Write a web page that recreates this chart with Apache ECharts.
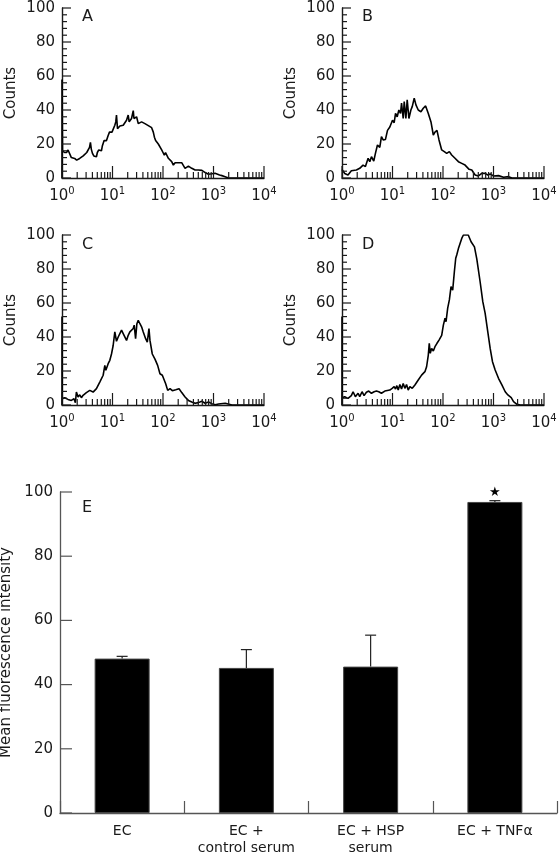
<!DOCTYPE html>
<html>
<head>
<meta charset="utf-8">
<script src="https://cdn.jsdelivr.net/npm/echarts@6/dist/echarts.min.js"></script>
<style>
html,body{margin:0;padding:0;background:#fff;}
#chart{width:560px;height:853px;}
</style>
</head>
<body>
<div id="chart"></div>
<script>
// ---- Histogram data: [log10(fluorescence), counts] ----
const histA = [[0,0],[0,58],[0.01,16],[0.05,15],[0.09,15],[0.12,16.5],[0.15,16],[0.185,12],[0.22,11],[0.25,11.5],[0.29,10.5],[0.32,10.6],[0.35,11.5],[0.38,12],[0.42,13],[0.45,14],[0.49,15],[0.52,15.5],[0.545,18],[0.563,21],[0.58,17],[0.603,14.5],[0.63,13],[0.649,12],[0.682,12.5],[0.70,15],[0.728,16.5],[0.76,16],[0.781,16],[0.80,19],[0.834,22],[0.86,21],[0.881,22],[0.914,25],[0.94,27],[0.967,28],[0.99,27],[1.013,28],[1.046,31],[1.065,33],[1.079,37],[1.099,29],[1.12,30],[1.146,30.6],[1.18,30],[1.212,31],[1.245,30],[1.278,34],[1.311,37],[1.33,33],[1.344,34],[1.377,35],[1.40,36],[1.411,39.6],[1.425,35],[1.444,34.5],[1.477,36],[1.51,32],[1.54,33],[1.576,33],[1.61,32.5],[1.642,32],[1.68,31],[1.709,30.8],[1.775,29.6],[1.808,27],[1.83,24],[1.854,22],[1.88,21],[1.907,20],[1.94,21],[1.974,16.5],[2.0,15],[2.026,13.5],[2.05,15],[2.073,14.5],[2.106,11.6],[2.14,11],[2.172,9.6],[2.205,7.6],[2.24,9],[2.272,9.6],[2.30,9],[2.338,10],[2.37,9],[2.404,8.6],[2.437,5.7],[2.47,6.5],[2.503,7],[2.54,6],[2.57,5.7],[2.60,5],[2.636,4.7],[2.67,4.5],[2.702,4.7],[2.735,5.7],[2.77,4.5],[2.801,4.1],[2.835,3.2],[2.868,2.7],[2.90,2.2],[2.934,1.8],[2.97,2.5],[3.0,3.1],[3.03,2.8],[3.066,2.4],[3.12,1.8],[3.166,1.4],[3.23,0.8],[3.298,0],[4,0]];

const histB = [[0,5],[0.053,2.7],[0.119,1.8],[0.185,4.3],[0.285,4.7],[0.351,5.7],[0.417,7.6],[0.464,6.7],[0.517,11.6],[0.55,9.6],[0.583,12.5],[0.629,10],[0.662,14.5],[0.702,19.4],[0.728,20.4],[0.748,18],[0.781,24.3],[0.815,22.4],[0.861,22.7],[0.901,28],[0.947,30],[0.98,29],[1.0,34],[1.033,32.5],[1.06,38],[1.093,36],[1.126,40],[1.159,38],[1.179,44],[1.212,35],[1.232,45],[1.265,35],[1.291,46],[1.325,35],[1.364,40],[1.391,42],[1.43,47],[1.464,43],[1.51,40],[1.563,39],[1.609,41],[1.656,42.4],[1.709,38],[1.762,33],[1.808,25.3],[1.841,27],[1.881,28],[1.921,22.4],[1.974,16.5],[2.026,15.5],[2.073,14.5],[2.126,15.5],[2.172,13.5],[2.238,11.6],[2.305,9.6],[2.371,8.6],[2.437,7.6],[2.47,8.6],[2.517,5.1],[2.57,4.7],[2.636,1.8],[2.702,1.2],[2.768,2.7],[2.834,2.7],[2.887,1.8],[2.934,2.4],[3.0,1.2],[3.099,1.4],[3.199,0.4],[3.298,0.8],[3.364,0],[4,0]];

const histC = [[0,0],[0,52],[0.005,3.7],[0.053,4.3],[0.119,3.3],[0.185,2.7],[0.238,3.7],[0.265,1.4],[0.285,7.6],[0.318,4.7],[0.351,6],[0.384,4.3],[0.417,5.7],[0.483,7.3],[0.55,8.6],[0.616,7.6],[0.682,9.6],[0.715,10.6],[0.748,13.5],[0.781,13],[0.815,17.5],[0.848,23.3],[0.868,20.4],[0.914,24.3],[0.947,26.3],[0.98,30],[1.013,35],[1.046,43],[1.079,37.5],[1.113,40],[1.146,39.4],[1.179,44],[1.212,42],[1.245,41],[1.278,38],[1.311,41],[1.344,43],[1.377,42],[1.411,45],[1.43,47],[1.457,39],[1.483,47.8],[1.51,49.8],[1.543,47.8],[1.576,46],[1.609,43],[1.656,39],[1.689,37],[1.722,45],[1.742,38],[1.788,30],[1.841,27],[1.894,23.3],[1.94,18.4],[1.987,17.5],[2.026,18.4],[2.053,12.5],[2.093,8.6],[2.139,9.6],[2.185,8.4],[2.252,9],[2.318,9.6],[2.371,7.3],[2.437,4.7],[2.503,2.7],[2.57,1.8],[2.636,1],[2.702,1.4],[2.768,2.2],[2.834,1],[2.901,1.8],[2.967,0.8],[3.033,0.2],[3.099,0.6],[3.232,1],[3.265,0.2],[3.364,0],[4,0]];

const histD = [[0,0],[0,52],[0.005,4.3],[0.053,4.9],[0.119,3.9],[0.185,5.5],[0.219,7.8],[0.265,4.9],[0.318,6.9],[0.351,4.9],[0.397,7.8],[0.437,5.5],[0.483,7.5],[0.53,8.2],[0.583,6.9],[0.636,7.8],[0.682,8.2],[0.728,7.8],[0.781,6.9],[0.848,8.2],[0.947,8.8],[0.993,9.8],[1.033,10.8],[1.06,9.4],[1.086,11.4],[1.113,8.8],[1.146,12],[1.179,9.4],[1.212,12.7],[1.245,9.8],[1.278,12],[1.311,8.8],[1.344,10.8],[1.391,9.8],[1.444,11.8],[1.51,14.7],[1.576,17.6],[1.642,19.6],[1.675,22.5],[1.709,29.4],[1.728,36.3],[1.748,30.4],[1.775,33.3],[1.808,31.8],[1.841,34.3],[1.881,36.3],[1.921,38.2],[1.974,41],[2.007,47],[2.04,51],[2.06,49],[2.093,57],[2.126,61.8],[2.159,69.6],[2.192,67.6],[2.225,78.4],[2.252,86.3],[2.272,88.2],[2.305,92],[2.338,95],[2.371,98],[2.404,100],[2.5,100],[2.536,99],[2.556,96],[2.583,97],[2.623,93],[2.669,86],[2.735,72.5],[2.788,60.8],[2.834,54],[2.887,43],[2.934,33.3],[2.98,25.5],[3.033,20.6],[3.099,15.7],[3.166,11.8],[3.232,7.8],[3.285,5.9],[3.311,6.5],[3.351,4.3],[3.397,2],[3.464,0.4],[3.53,0],[4,0]];

// ---- Axis tick definitions ----
const decadeExponents = [0, 1, 2, 3, 4];
const minorMultipliers = [2, 3, 4, 5, 6, 7, 8, 9];
const countMajorTicks = [0, 20, 40, 60, 80, 100];
const countMinorTicks = [4, 8, 12, 16, 24, 28, 32, 36, 44, 48, 52, 56, 64, 68, 72, 76, 84, 88, 92, 96];
const intensityTicks = [0, 20, 40, 60, 80, 100];
const panelLetters = ['A', 'B', 'C', 'D', 'E'];

// ---- Bar chart (panel E) ----
const categories = ['EC', 'EC +\ncontrol serum', 'EC + HSP\nserum', 'EC + TNF\u03b1'];
const meanValues = [48.1, 45.2, 45.6, 96.9];
const errorValues = [0.7, 5.7, 9.8, 0.4];

const FONT = 'DejaVu Sans';
const INK = '#1a1a1a';
const AXIS_E = '#555';

const minorTickValues = [];
for (let d = 0; d < 4; d++) {
  minorMultipliers.forEach(m => minorTickValues.push(d + Math.log10(m)));
}

// Inward tick marks, positioned through each axis' scale
function xTickSeries(axisIdx, values, len, color) {
  return {
    type: 'custom', xAxisIndex: axisIdx, yAxisIndex: axisIdx, z: 6, animation: false, clip: false, silent: true,
    data: values.map(v => [v, 0]),
    renderItem: (params, api) => {
      const x = api.coord([api.value(0), 0])[0];
      const y = params.coordSys.y + params.coordSys.height;
      return {type: 'rect', shape: {x: x - 0.6, y: y - len, width: 1.2, height: len}, style: {fill: color}};
    }
  };
}
function yTickSeries(axisIdx, values, len, color) {
  return {
    type: 'custom', xAxisIndex: axisIdx, yAxisIndex: axisIdx, z: 6, animation: false, clip: false, silent: true,
    data: values.map(v => [0.5, v]),
    renderItem: (params, api) => {
      const y = api.coord([api.value(0), api.value(1)])[1];
      const x = params.coordSys.x;
      return {type: 'rect', shape: {x: x, y: y - 0.6, width: len, height: 1.2}, style: {fill: color}};
    }
  };
}

const histGrids = [
  {left: 62, top: 8, width: 202, height: 170, outerBoundsMode: 'none'},
  {left: 342, top: 8, width: 202, height: 170, outerBoundsMode: 'none'},
  {left: 62, top: 235, width: 202, height: 170, outerBoundsMode: 'none'},
  {left: 342, top: 235, width: 202, height: 170, outerBoundsMode: 'none'}
];
const hists = [histA, histB, histC, histD];

const grid = histGrids.concat([{left: 60, top: 492, width: 497, height: 321, outerBoundsMode: 'none'}]);
const xAxis = [];
const yAxis = [];
const series = [];

histGrids.forEach((g, i) => {
  xAxis.push({
    gridIndex: i, type: 'value', min: 0, max: 4, interval: 1, position: 'bottom',
    axisLine: {show: true, onZero: false, lineStyle: {color: INK, width: 1.4}},
    axisTick: {show: false},
    splitLine: {show: false},
    axisLabel: {
      show: true, margin: 8,
      formatter: v => '{b|10}{s|' + decadeExponents[Math.round(v)] + '}',
      rich: {
        b: {fontSize: 15, fontFamily: FONT, color: INK, lineHeight: 18, verticalAlign: 'bottom'},
        s: {fontSize: 10, fontFamily: FONT, color: INK, lineHeight: 10, verticalAlign: 'top'}
      }
    }
  });
  yAxis.push({
    gridIndex: i, type: 'value', min: 0, max: 100, interval: 20,
    axisLine: {show: true, onZero: false, lineStyle: {color: INK, width: 1.4}},
    axisTick: {show: false},
    minorTick: {show: false},
    splitLine: {show: false},
    axisLabel: {fontSize: 15, fontFamily: FONT, color: INK, margin: 7},
    name: 'Counts', nameLocation: 'middle', nameGap: 43,
    nameTextStyle: {fontSize: 15, fontFamily: FONT, color: INK}
  });
  series.push({
    type: 'line', xAxisIndex: i, yAxisIndex: i, data: hists[i],
    showSymbol: false, symbol: 'none', smooth: false,
    lineStyle: {color: '#000', width: 1.6}, z: 5, animation: false
  });
  series.push(xTickSeries(i, decadeExponents, 12, INK));
  series.push(xTickSeries(i, minorTickValues, 6, INK));
  series.push(yTickSeries(i, countMajorTicks, 9, INK));
  series.push(yTickSeries(i, countMinorTicks, 5, INK));
});

// Panel E axes
xAxis.push({
  gridIndex: 4, type: 'category', data: categories, boundaryGap: true,
  axisLine: {show: true, onZero: false, lineStyle: {color: AXIS_E, width: 1.3}},
  axisTick: {show: true, inside: true, length: 12, lineStyle: {color: AXIS_E, width: 1.2}},
  axisLabel: {fontSize: 14, fontFamily: FONT, color: INK, margin: 10, lineHeight: 17, interval: 0}
});
yAxis.push({
  gridIndex: 4, type: 'value', min: 0, max: 100, interval: 20,
  axisLine: {show: true, onZero: false, lineStyle: {color: AXIS_E, width: 1.3}},
  axisTick: {show: false},
  splitLine: {show: false},
  axisLabel: {fontSize: 15, fontFamily: FONT, color: INK, margin: 7},
  name: 'Mean fluorescence intensity', nameLocation: 'middle', nameGap: 36,
  nameTextStyle: {fontSize: 15, fontFamily: FONT, color: INK}
});

series.push({
  type: 'bar', xAxisIndex: 4, yAxisIndex: 4, barWidth: 55,
  itemStyle: {color: '#000', borderColor: '#444', borderWidth: 1},
  data: meanValues.map((v, i) => i === 3 ? {
    value: v,
    label: {show: true, position: 'top', distance: 3, formatter: '\u2605', fontSize: 13, fontFamily: 'DejaVu Sans', color: '#000'}
  } : v),
  animation: false, z: 2
});

series.push({
  type: 'custom', xAxisIndex: 4, yAxisIndex: 4, z: 4, animation: false,
  data: meanValues.map((v, i) => [i, v, v + errorValues[i]]),
  renderItem: (params, api) => {
    const p0 = api.coord([api.value(0), api.value(1)]);
    const p1 = api.coord([api.value(0), api.value(2)]);
    const half = 5.5;
    const style = {stroke: '#222', lineWidth: 1.2};
    return {
      type: 'group',
      children: [
        {type: 'line', shape: {x1: p0[0], y1: p0[1], x2: p1[0], y2: p1[1]}, style},
        {type: 'line', shape: {x1: p1[0] - half, y1: p1[1], x2: p1[0] + half, y2: p1[1]}, style}
      ]
    };
  }
});
series.push(yTickSeries(4, intensityTicks, 12, AXIS_E));

const titlePos = [[82, 9], [362, 9], [82, 237], [362, 237], [82, 500]];
const title = panelLetters.map((t, i) => ({
  text: t, left: titlePos[i][0], top: titlePos[i][1], padding: 0,
  textStyle: {fontSize: 16, fontWeight: 'normal', fontFamily: FONT, color: INK}
}));

const chart = echarts.init(document.getElementById('chart'), null, {renderer: 'canvas'});
chart.setOption({
  backgroundColor: '#fff',
  animation: false,
  title, grid, xAxis, yAxis, series
});
</script>
</body>
</html>
